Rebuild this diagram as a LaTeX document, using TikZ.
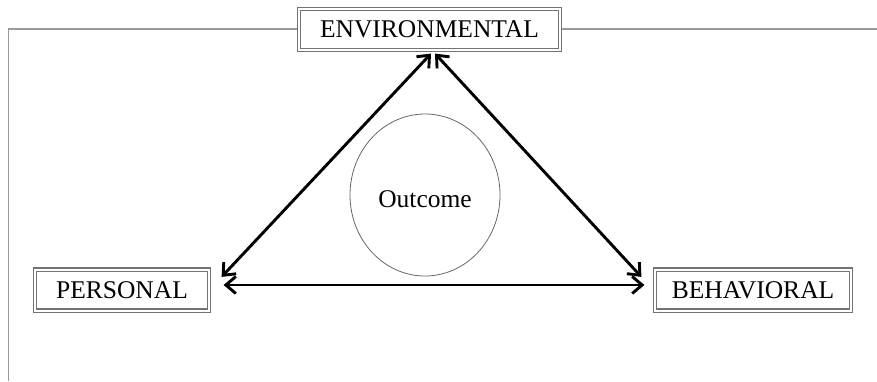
\documentclass[tikz,border=0pt]{standalone}
\usepackage{fontspec}
\setmainfont{Liberation Serif}
\usetikzlibrary{arrows.meta,shapes.geometric}
\begin{document}
\begin{tikzpicture}[x=1pt,y=-1pt,
  factor/.style={draw=black!55, double=white, double distance=2pt, line width=1.2pt,
    fill=white, inner sep=0pt, font=\fontsize{25.5}{30}\selectfont, minimum height=41pt},
  frame/.style={draw=black!40, line width=1.6pt},
  link/.style={line width=2.9pt, black, {Straight Barb[length=10pt,width=17pt]}-{Straight Barb[length=10pt,width=17pt]}}
]
\useasboundingbox (0,0) rectangle (877,381);
% outer frame, open at the right and bottom
\draw[frame] (8.5,381) -- (8.5,29) -- (877,29);
% the three factors
\node[factor, minimum width=261pt] (env) at (429.5,29.5) {ENVIRONMENTAL};
\node[factor, minimum width=174pt] (pers) at (122,290) {PERSONAL};
\node[factor, minimum width=196pt] (beh) at (753,290) {BEHAVIORAL};
% outcome in the middle, its text set a little below the centre
\node[draw=black!60, line width=0.8pt, ellipse, minimum width=150pt, minimum height=162pt,
  label={[font=\fontsize{25.5}{30}\selectfont, yshift=-4pt]center:Outcome}] (out) at (425,195) {};
% reciprocal links
\draw[link] ([xshift=1.5pt,yshift=-3pt]env.south) -- ([xshift=12pt,yshift=-8pt]pers.north east);
\draw[link] ([xshift=5.5pt,yshift=-3pt]env.south) -- ([xshift=-13pt,yshift=-8pt]beh.north west);
\draw[link] ([xshift=14pt,yshift=5pt]pers.east) -- ([xshift=-10pt,yshift=5pt]beh.west);
\end{tikzpicture}
\end{document}
